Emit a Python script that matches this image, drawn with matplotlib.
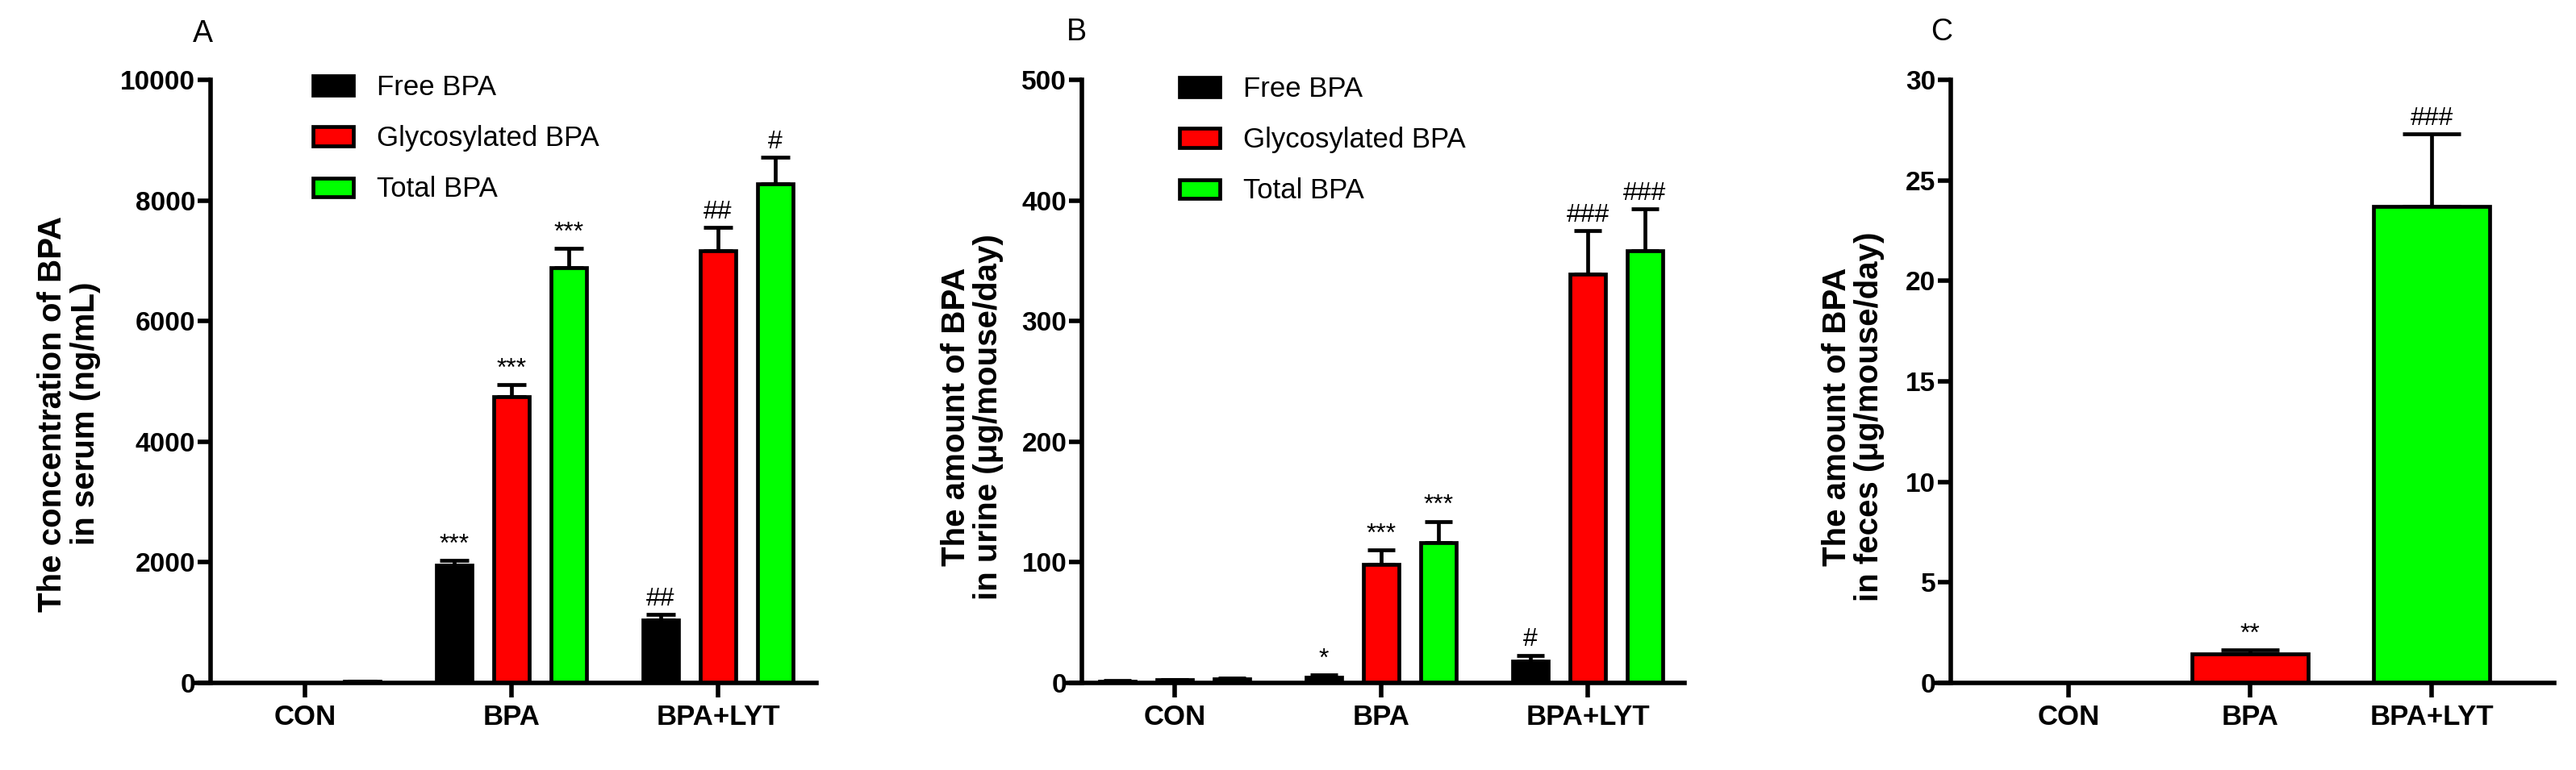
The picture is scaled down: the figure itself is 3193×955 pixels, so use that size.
import numpy as np
import matplotlib
matplotlib.use("Agg")
import matplotlib.pyplot as plt

plt.rcParams['font.family'] = ['Liberation Sans', 'DejaVu Sans']

groups = ['CON', 'BPA', 'BPA+LYT']
series = ['Free BPA', 'Glycosylated BPA', 'Total BPA']
colors = ['#000000', '#ff0000', '#00ff00']

# panel A: serum (ng/mL)
serum_mean = [[5, 1950, 1040], [5, 4750, 7170], [25, 6880, 8280]]
serum_err = [[0, 80, 100], [0, 190, 380], [0, 330, 430]]
serum_marks = [['', '***', '##'], ['', '***', '##'], ['', '***', '#']]

# panel B: urine (ug/mouse/day)
urine_mean = [[1.5, 4.5, 18], [2.5, 98, 339], [3.5, 116, 358]]
urine_err = [[0.5, 2, 5], [0.5, 12, 36], [0.8, 18, 35]]
urine_marks = [['', '*', '#'], ['', '***', '###'], ['', '***', '###']]

# panel C: feces (ug/mouse/day)
feces_mean = [0, 1.45, 23.7]
feces_err = [0, 0.2, 3.6]
feces_marks = ['', '**', '###']
feces_colors = ['#000000', '#ff0000', '#00ff00']

W, H = 3193, 955
fig = plt.figure(figsize=(W / 100, H / 100), dpi=100)

LW = 4.0
MARK_FS = 23


def px_axes(left, right, top=99, bottom=847):
    return fig.add_axes([left / W, (H - bottom) / H, (right - left) / W, (bottom - top) / H])


def style(ax, yticks, ylim, xlim, left_px, right_px):
    ax.set_xlim(xlim)
    ax.set_ylim(ylim)
    for s in ['top', 'right']:
        ax.spines[s].set_visible(False)
    ax.spines['left'].set_linewidth(LW)
    ax.spines['bottom'].set_linewidth(LW)
    ax.spines['left'].set_position(('axes', 20 / (right_px - left_px)))
    ax.spines['left'].set_bounds(ylim[0], ylim[1])
    ax.set_yticks(yticks)
    ax.set_xticks(range(len(groups)))
    ax.set_xticklabels(groups)
    ax.tick_params(axis='y', length=11.5, width=LW, labelsize=24, pad=2)
    ax.tick_params(axis='x', length=13, width=LW, labelsize=25, pad=6)
    for lab in ax.get_xticklabels() + ax.get_yticklabels():
        lab.set_fontweight('bold')


def grouped(ax, means, errs, marks, capsize):
    x = np.arange(len(groups))
    w = 0.172
    off = 0.277
    for i in range(3):
        xs = x + (i - 1) * off
        ax.bar(xs, means[i], width=w, color=colors[i], edgecolor='black',
               linewidth=3.4, zorder=2)
        ax.errorbar(xs, means[i], yerr=[np.zeros(3), errs[i]], fmt='none',
                    ecolor='black', elinewidth=3.4, capsize=capsize,
                    capthick=3.4, zorder=1)
        for j in range(3):
            if marks[i][j]:
                ax.annotate(marks[i][j], (xs[j], means[i][j] + errs[i][j]),
                            xytext=(0, 3), textcoords='offset points',
                            ha='center', va='bottom', fontsize=MARK_FS)


def legend(ax, x_px, y_px):
    handles = [plt.Rectangle((0, 0), 1, 1, facecolor=c, edgecolor='black', linewidth=3.4)
               for c in colors]
    ax.legend(handles, series, loc='upper left',
              bbox_to_anchor=(x_px / W, 1 - y_px / H), bbox_transform=fig.transFigure,
              frameon=False, fontsize=25, handlelength=1.44, handleheight=0.66,
              handletextpad=0.84, labelspacing=0.87, borderaxespad=0, borderpad=0)


# A
axA = px_axes(241, 1012)
grouped(axA, serum_mean, serum_err, serum_marks, 13)
style(axA, range(0, 10001, 2000), (0, 10000), ((241 - 378) / 256, (1012 - 378) / 256), 241, 1012)
legend(axA, 388, 92)
fig.text(86 / W, 1 - 513 / H, 'The concentration of BPA\nin serum (ng/mL)', rotation=90,
         ha='center', va='center', fontsize=29, fontweight='bold', multialignment='center',
         linespacing=1.1)
fig.text(251 / W, 1 - 42 / H, 'A', ha='center', va='center', fontsize=27)

# B
axB = px_axes(1321, 2088)
grouped(axB, urine_mean, urine_err, urine_marks, 12)
style(axB, range(0, 501, 100), (0, 500), ((1321 - 1456) / 256, (2088 - 1456) / 256), 1321, 2088)
legend(axB, 1462, 94)
fig.text(1205 / W, 1 - 517 / H, 'The amount of BPA\nin urine (μg/mouse/day)', rotation=90,
         ha='center', va='center', fontsize=29, fontweight='bold', multialignment='center',
         linespacing=1.1)
fig.text(1334 / W, 1 - 40 / H, 'B', ha='center', va='center', fontsize=27)

# C
axC = px_axes(2398, 3166)
xc = np.arange(3)
axC.bar(xc, feces_mean, width=0.64, color=feces_colors, edgecolor='black',
        linewidth=3.4, zorder=2)
axC.errorbar(xc, feces_mean, yerr=[np.zeros(3), feces_err], fmt='none', ecolor='black',
             elinewidth=3.4, capsize=26, capthick=3.4, zorder=1)
for j in range(3):
    if feces_marks[j]:
        axC.annotate(feces_marks[j], (xc[j], feces_mean[j] + feces_err[j]),
                     xytext=(0, 3), textcoords='offset points',
                     ha='center', va='bottom', fontsize=MARK_FS)
style(axC, range(0, 31, 5), (0, 30), ((2398 - 2564) / 225, (3166 - 2564) / 225), 2398, 3166)
fig.text(2297 / W, 1 - 517 / H, 'The amount of BPA\nin feces (μg/mouse/day)', rotation=90,
         ha='center', va='center', fontsize=29, fontweight='bold', multialignment='center',
         linespacing=1.1)
fig.text(2407 / W, 1 - 40 / H, 'C', ha='center', va='center', fontsize=27)

fig.savefig('out.png', dpi=100)
